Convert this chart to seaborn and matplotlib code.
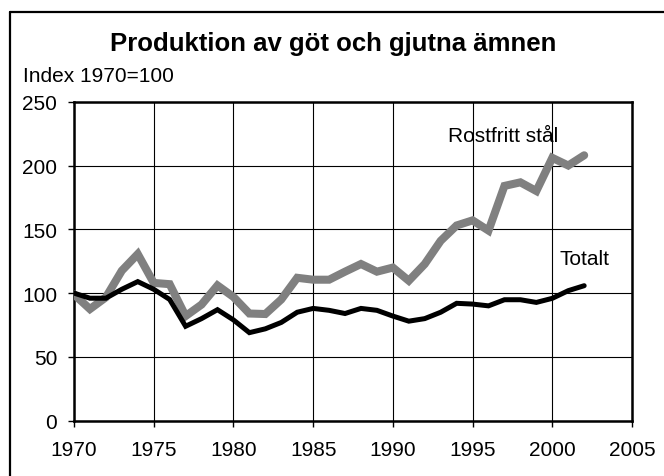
import matplotlib
matplotlib.use("Agg")
import matplotlib.pyplot as plt
import seaborn as sns
import pandas as pd
from matplotlib.lines import Line2D

years = list(range(1970, 2003))
totalt = [100, 96, 96, 103, 109, 103, 95, 74, 80, 87, 79, 69, 72, 77, 85, 88, 86.5, 84, 88, 86.5,
          82, 78, 80, 85, 92, 91.4, 90, 94.8, 94.8, 92.7, 95.9, 101.9, 105.8]
rostfritt = [99, 87.5, 96.7, 117.6, 130.6, 108, 107, 82, 91, 106, 97, 84, 83.6, 95, 112, 110.5, 110.5,
             116.8, 122.8, 116.8, 120, 109.7, 122.8, 141, 153, 157, 149, 184, 186.8, 180, 206, 200, 208]

title = "Produktion av göt och gjutna ämnen"
ylabel = "Index 1970=100"
label_rost = "Rostfritt stål"
label_tot = "Totalt"
xticks = [1970, 1975, 1980, 1985, 1990, 1995, 2000, 2005]
yticks = [0, 50, 100, 150, 200, 250]

df_t = pd.DataFrame({"year": years, "value": totalt})
df_r = pd.DataFrame({"year": years, "value": rostfritt})

sns.set_theme(style="white")
plt.rcParams["font.family"] = ["Liberation Sans", "DejaVu Sans"]
plt.rcParams["text.color"] = "black"

fig = plt.figure(figsize=(6.64, 4.77), dpi=100)
ax = fig.add_axes([74 / 664, 1 - 421.7 / 477, (632 - 74) / 664, (421.7 - 102.7) / 477])

sns.lineplot(data=df_r, x="year", y="value", ax=ax, color="#808080", linewidth=5.8,
             solid_joinstyle="miter", zorder=3)
sns.lineplot(data=df_t, x="year", y="value", ax=ax, color="black", linewidth=3.6,
             solid_joinstyle="miter", zorder=4)

ax.set_xlim(1970, 2005)
ax.set_ylim(0, 250)
ax.set_xticks(xticks)
ax.set_yticks(yticks)
ax.grid(True, color="black", linewidth=0.8)
ax.set_axisbelow(True)
ax.set_xlabel("")
ax.set_ylabel("")
for s in ax.spines.values():
    s.set_visible(True)
    s.set_color("black")
    s.set_linewidth(1.8)
ax.tick_params(axis="both", which="major", direction="out", length=4.5, width=1, color="black",
               labelsize=15, labelcolor="black", bottom=True, left=True)
ax.tick_params(axis="x", pad=9.5)
ax.tick_params(axis="y", pad=7.5)

fig.text(333 / 664, 1 - 44 / 477, title, ha="center", va="center", fontsize=18.5, fontweight="bold")
fig.text(23 / 664, 1 - 76 / 477, ylabel, ha="left", va="center", fontsize=15)
fig.text(503 / 664, 1 - 137 / 477, label_rost, ha="center", va="center", fontsize=15, zorder=10)
fig.text(584 / 664, 1 - 260 / 477, label_tot, ha="center", va="center", fontsize=15, zorder=10)

# outer frame (top and left edges)
fig.add_artist(Line2D([10 / 664, 1.0], [1 - 12.5 / 477, 1 - 12.5 / 477], transform=fig.transFigure,
                      color="black", linewidth=1.6))
fig.add_artist(Line2D([10 / 664, 10 / 664], [0, 1 - 12.5 / 477], transform=fig.transFigure,
                      color="black", linewidth=1.6))

fig.savefig("out.png", dpi=100)
